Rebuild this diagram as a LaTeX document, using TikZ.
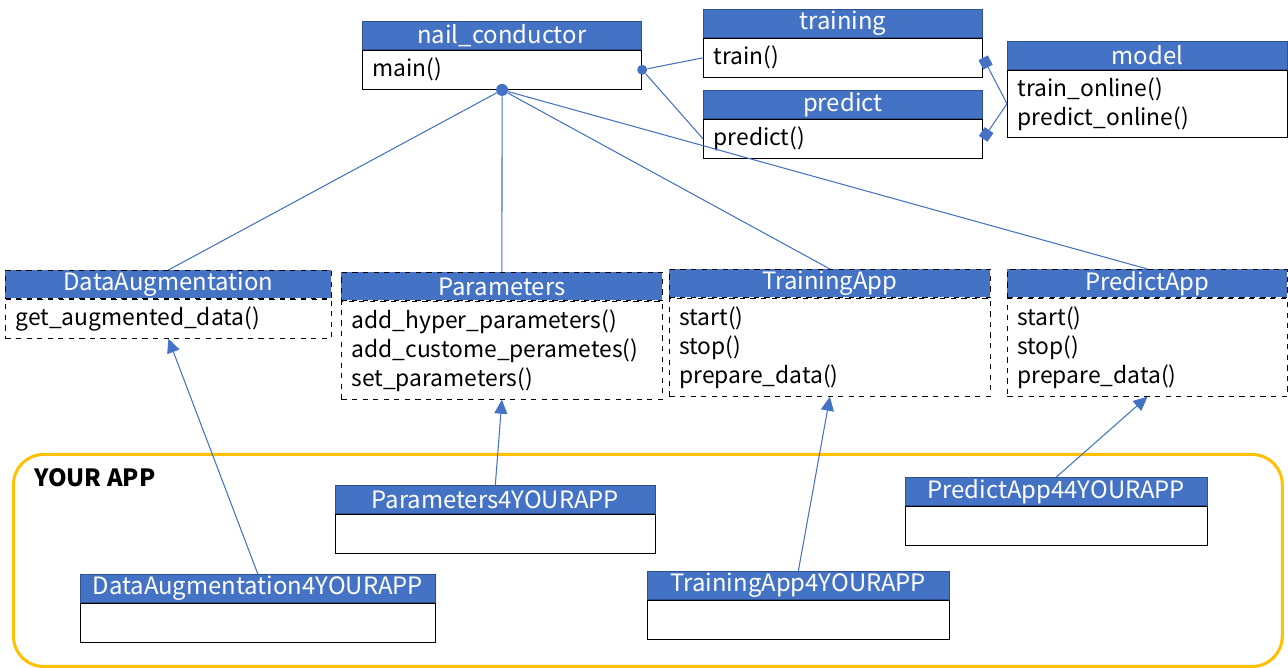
\documentclass[tikz,border=0pt]{standalone}
\usepackage{fontspec}
\setmainfont{Noto Sans CJK JP}
\usetikzlibrary{positioning,arrows.meta}
\definecolor{umlblue}{HTML}{4472C4}
\definecolor{umledge}{HTML}{2F528F}
\definecolor{appgold}{HTML}{FFC000}

\begin{document}
\begin{tikzpicture}[
  x=0.02cm, y=-0.02cm,
  hdr/.style={anchor=north west, fill=umlblue, draw=umledge, text=white, inner sep=0pt,
    minimum height=0.56cm, font=\fontsize{13.6}{15}\selectfont},
  mbody/.style={anchor=north west, draw, line width=0.7pt, align=left, inner xsep=0.2cm,
    inner ysep=0pt, minimum height=0.78cm, font=\fontsize{13}{16.5}\selectfont},
  abstract/.style={draw=black, dashed, line width=0.5pt},
  link/.style={draw=umlblue, line width=0.6pt},
  inherit/.style={link, -{Triangle[length=0.28cm, width=0.26cm]}},
  hub/.style={circle, fill=umlblue, inner sep=0pt, minimum size=0.24cm},
  owns/.style={link, {Square[length=0.21cm, width=0.21cm]}-}
]
\useasboundingbox (0,0) rectangle (1288,668);

% YOUR APP frame
\node[draw=appgold, line width=1.7pt, rounded corners=0.6cm, anchor=north west,
  minimum width=25.38cm, minimum height=4.24cm] (yourapp) at (12,453) {};
\node[anchor=west, font=\fontsize{13.5}{16}\selectfont\bfseries] (yourapplbl) at (28,478) {YOUR APP};

% top classes
\node[hdr, minimum width=5.58cm] (nch) at (362,21) {nail\_conductor};
\node[mbody, text width=5.18cm] (ncb) at (nch.south west) {main()};

\node[hdr, minimum width=5.58cm] (trh) at (703,9) {training};
\node[mbody, text width=5.18cm] (trb) at (trh.south west) {train()};

\node[hdr, minimum width=5.58cm] (prh) at (703,90) {predict};
\node[mbody, text width=5.18cm] (prb) at (prh.south west) {predict()};

\node[hdr, minimum width=5.6cm] (mdh) at (1007,41) {model};
\node[mbody, text width=5.2cm, minimum height=1.34cm] (mdb) at (mdh.south west) {train\_online()\\predict\_online()};

% abstract classes
\node[hdr, abstract, minimum width=6.52cm] (dah) at (5,270) {DataAugmentation};
\node[mbody, abstract, text width=6.12cm] (dab) at (dah.south west) {get\_augmented\_data()};

\node[hdr, abstract, minimum width=6.42cm] (pah) at (341,272) {Parameters};
\node[mbody, abstract, text width=6.02cm, minimum height=1.96cm] (pab) at (pah.south west)
  {add\_hyper\_parameters()\\add\_custome\_perametes()\\set\_parameters()};

\node[hdr, abstract, minimum width=6.42cm] (tah) at (669,269) {TrainingApp};
\node[mbody, abstract, text width=6.02cm, minimum height=1.96cm] (tab) at (tah.south west)
  {start()\\stop()\\prepare\_data()};

\node[hdr, abstract, minimum width=5.6cm] (pdh) at (1007,269) {PredictApp};
\node[mbody, abstract, text width=5.2cm, minimum height=1.96cm] (pdb) at (pdh.south west)
  {start()\\stop()\\prepare\_data()};

% classes of YOUR APP
\node[hdr, minimum width=6.4cm] (pa4h) at (335,485) {Parameters4YOURAPP};
\node[mbody, text width=6.0cm] (pa4b) at (pa4h.south west) {};

\node[hdr, minimum width=6.04cm] (pd4h) at (905,477) {PredictApp44YOURAPP};
\node[mbody, text width=5.64cm] (pd4b) at (pd4h.south west) {};

\node[hdr, minimum width=7.1cm] (da4h) at (80,574) {DataAugmentation4YOURAPP};
\node[mbody, text width=6.7cm] (da4b) at (da4h.south west) {};

\node[hdr, minimum width=6.04cm] (ta4h) at (647,571) {TrainingApp4YOURAPP};
\node[mbody, text width=5.64cm] (ta4b) at (ta4h.south west) {};

% connectors
\node[hub] (nchub) at (ncb.south) {};
\draw[link] (nchub) -- (dah.north);
\draw[link] (nchub) -- (pah.north);
\draw[link] (nchub) -- (tah.north);
\draw[link] (nchub) -- (pdh.north);

\node[hub, minimum size=0.2cm] (ncend) at (ncb.east) {};
\draw[link] (ncend) -- (trb.west);
\draw[link] (ncend) -- (prb.west);

\draw[owns] (trb.east) -- (mdb.west);
\draw[owns] (prb.east) -- (mdb.west);

\draw[inherit] (da4h.north) -- (dab.south);
\draw[inherit] (pa4h.north) -- (pab.south);
\draw[inherit] (ta4h.north) -- (tab.south);
\draw[inherit] (pd4h.north) -- (pdb.south);
\end{tikzpicture}
\end{document}
